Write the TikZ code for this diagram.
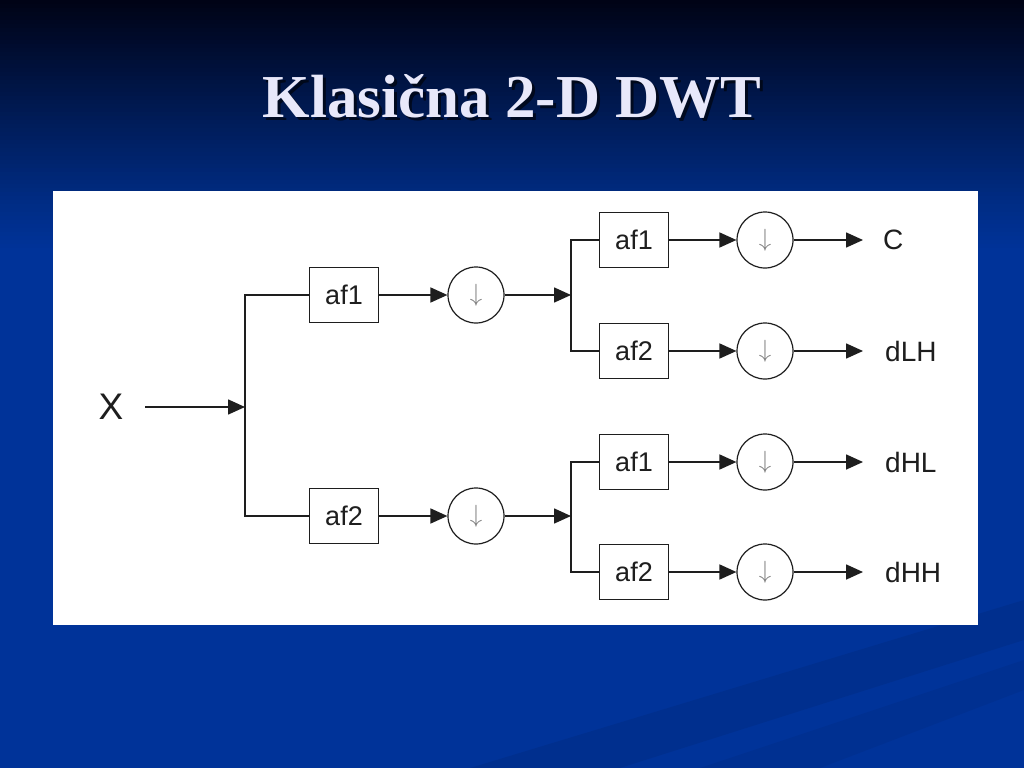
\documentclass[tikz,border=0pt]{standalone}
\usepackage{fontspec}
\setmainfont{Liberation Serif}
\newfontfamily\arialf{Liberation Sans}
\usetikzlibrary{arrows.meta}
\definecolor{bgA}{RGB}{0,3,22}
\definecolor{bgB}{RGB}{0,24,78}
\definecolor{bgC}{RGB}{0,44,132}
\definecolor{bgD}{RGB}{0,51,153}
\definecolor{titlecol}{RGB}{232,232,250}
\definecolor{inkcol}{RGB}{30,30,30}
\tikzset{
  filt/.style={draw=inkcol, line width=1.5pt, fill=white, minimum width=69pt, minimum height=55pt, inner sep=0pt, font=\arialf\fontsize{27}{27}\selectfont, text=inkcol},
  dsamp/.style={draw=inkcol, line width=1.2pt, circle, fill=white, minimum size=56pt, inner sep=0pt},
  outlab/.style={anchor=west, inner sep=0pt, font=\arialf\fontsize{28}{28}\selectfont, text=inkcol},
  wire/.style={draw=inkcol, line width=1.6pt},
  arr/.style={wire, -{Triangle[length=17pt,width=15pt]}},
}
\newcommand{\dsym}{\textcolor{gray}{\fontsize{35}{35}\selectfont$\downarrow$}}
\begin{document}
\begin{tikzpicture}[x=1pt,y=-1pt]
\useasboundingbox (0,0) rectangle (1024,768);
% background
\fill[bgD] (0,0) rectangle (1024,768);
\foreach \i in {0,...,24} {
  \pgfmathsetmacro\t{\i*4}
  \fill[bgB!\t!bgA] (0,\i*4) rectangle (1024,\i*4+4.6);
}
\foreach \i in {0,...,24} {
  \pgfmathsetmacro\t{\i*4}
  \fill[bgC!\t!bgB] (0,100+\i*4) rectangle (1024,100+\i*4+4.6);
}
\foreach \i in {0,...,12} {
  \pgfmathsetmacro\t{\i*100/12}
  \fill[bgD!\t!bgC] (0,200+\i*4) rectangle (1024,200+\i*4+4.6);
}
\fill[black, opacity=0.07] (470,768) -- (1024,600) -- (1024,640) -- (620,768) -- cycle;
\fill[black, opacity=0.05] (700,768) -- (1024,660) -- (1024,690) -- (820,768) -- cycle;
% title
\node[anchor=base, text=black, opacity=0.6, font=\bfseries\fontsize{61}{61}\selectfont] at (515,120) {Klasična 2-D DWT};
\node[anchor=base, text=titlecol, font=\bfseries\fontsize{61}{61}\selectfont] (title) at (512,117) {Klasična 2-D DWT};
% panel
\fill[white] (53,191) rectangle (978,625);
% input
\node[font=\arialf\fontsize{37}{37}\selectfont, text=inkcol, inner sep=0pt] (X) at (111,407) {X};
\coordinate (J0) at (245,407);
% level 1
\node[filt] (A1) at (344,295) {af1};
\node[filt] (A2) at (344,516) {af2};
\node[dsamp] (D1) at (476,295) {\dsym};
\node[dsamp] (D2) at (476,516) {\dsym};
\coordinate (J1) at (571,295);
\coordinate (J2) at (571,516);
% level 2
\node[filt] (B1) at (634,240) {af1};
\node[filt] (B2) at (634,351) {af2};
\node[filt] (B3) at (634,462) {af1};
\node[filt] (B4) at (634,572) {af2};
\node[dsamp] (E1) at (765,240) {\dsym};
\node[dsamp] (E2) at (765,351) {\dsym};
\node[dsamp] (E3) at (765,462) {\dsym};
\node[dsamp] (E4) at (765,572) {\dsym};
\node[outlab] (C) at (883,240) {C};
\node[outlab] (dLH) at (885,351) {dLH};
\node[outlab] (dHL) at (885,462) {dHL};
\node[outlab] (dHH) at (885,572) {dHH};
% wires
\draw[arr] ([xshift=34pt]X.center) -- (J0);
\draw[wire] (A1.west) -| (J0) |- (A2.west);
\draw[arr] (A1) -- (D1);
\draw[arr] (A2) -- (D2);
\draw[arr] (D1) -- (J1);
\draw[arr] (D2) -- (J2);
\draw[wire] (B1.west) -| (J1) |- (B2.west);
\draw[wire] (B3.west) -| (J2) |- (B4.west);
\draw[arr] (B1) -- (E1);
\draw[arr] (B2) -- (E2);
\draw[arr] (B3) -- (E3);
\draw[arr] (B4) -- (E4);
\draw[arr, shorten >=20pt] (E1) -- (C.west);
\draw[arr, shorten >=22pt] (E2) -- (dLH.west);
\draw[arr, shorten >=22pt] (E3) -- (dHL.west);
\draw[arr, shorten >=22pt] (E4) -- (dHH.west);
\end{tikzpicture}
\end{document}
